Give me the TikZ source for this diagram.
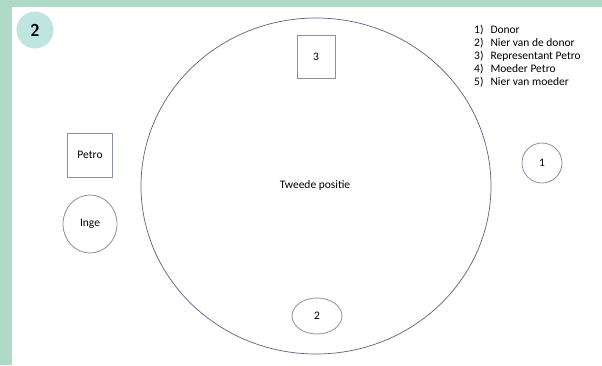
\documentclass[tikz,border=0pt]{standalone}
\usepackage{fontspec}
\usetikzlibrary{shapes.geometric}
\setmainfont{Carlito}
\definecolor{framegreen}{HTML}{AED9C7}
\definecolor{badgefill}{HTML}{BEE5DF}
\definecolor{lineblue}{HTML}{5A5F8A}
\definecolor{linegrey}{HTML}{8C8FA8}
\tikzset{
  figline/.style={draw=linegrey, line width=0.8pt},
  lbl/.style={font=\fontsize{11.5}{13}\selectfont, text=black},
}
\begin{document}
\begin{tikzpicture}[x=1pt,y=-1pt]
\useasboundingbox (0,0) rectangle (602,365);
\fill[framegreen] (0,0) rectangle (602,365);
\fill[white] (12,7) rectangle (602,365);
% badge
\node[circle, fill=badgefill, minimum size=37pt, inner sep=0pt,
      font=\sffamily\bfseries\fontsize{17}{17}\selectfont] (badge) at (35,30) {2};
% big circle
\draw[draw=lineblue, line width=0.7pt] (316,186) ellipse [x radius=175, y radius=168];
\node[lbl] (centre) at (315,185) {Tweede positie};
% square 3
\node[figline, rectangle, minimum width=38pt, minimum height=43pt, lbl] (three) at (316,57) {3};
% circle 2
\node[figline, ellipse, minimum width=50pt, minimum height=36pt, lbl, inner sep=0pt] (two) at (317,316) {2};
% circle 1
\node[figline, circle, minimum size=40pt, inner sep=0pt, lbl] (one) at (542,163) {1};
% Petro
\node[figline, rectangle, minimum width=45pt, minimum height=44pt, lbl] (petro) at (90,155) {Petro};
% Inge
\node[figline, ellipse, minimum width=54pt, minimum height=58pt, inner sep=0pt, lbl] (inge) at (90,224) {Inge};
% legend
\node[lbl, anchor=north west, inner sep=0pt, align=left] (legend) at (474,24) {%
  \renewcommand{\arraystretch}{1.0}%
  \begin{tabular}{@{}l@{\hspace{7pt}}l@{}}
  1) & Donor\\
  2) & Nier van de donor\\
  3) & Representant Petro\\
  4) & Moeder Petro\\
  5) & Nier van moeder
  \end{tabular}};
\end{tikzpicture}
\end{document}
